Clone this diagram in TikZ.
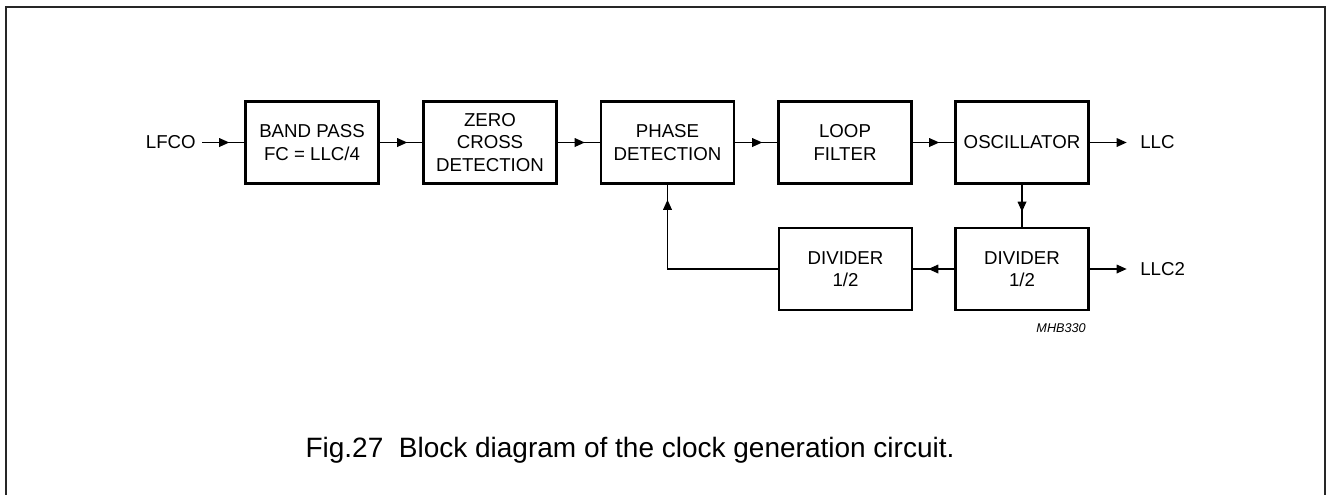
\documentclass[tikz,border=0pt]{standalone}
\usepackage{fontspec}
\setmainfont{Liberation Sans}
\usetikzlibrary{arrows.meta,decorations.markings}
\begin{document}
\begin{tikzpicture}[x=0.75pt,y=-0.75pt,
  blk/.style={draw, line width=1.9pt, minimum width=99.75pt, minimum height=61.5pt,
    align=center, inner sep=0pt, font=\fontsize{14}{17}\selectfont},
  lbl/.style={inner sep=0pt, font=\fontsize{14}{17}\selectfont},
  conn/.style={line width=0.9pt, postaction=decorate,
    decoration={markings, mark=at position -11.25pt with {\arrow{Triangle[length=7.5pt,width=6.5pt]}}}},
  outarrow/.style={line width=0.9pt, -{Triangle[length=7.5pt,width=6.5pt]}, shorten >=10pt},
  frame/.style={draw=black!85, line width=1.6pt}]
\useasboundingbox (0,0) rectangle (1327,494);
\draw[frame] (6,520) -- (6,7) -- (1325,7) -- (1325,520);

\node[blk] (b1) at (312,142.5) {BAND PASS\\FC = LLC/4};
\node[blk] (b2) at (490,142.5) {ZERO\\CROSS\\DETECTION};
\node[blk] (b3) at (667.5,142.5) {PHASE\\DETECTION};
\node[blk] (b4) at (845,142.5) {LOOP\\FILTER};
\node[blk] (b5) at (1022,142.5) {OSCILLATOR};
\node[blk] (d1) at (845.5,269) {DIVIDER\\1/2};
\node[blk] (d2) at (1022,269) {DIVIDER\\1/2};

\node[lbl, anchor=east] (lfco) at (196,142.5) {LFCO};
\node[lbl, anchor=west] (llc) at (1140,142.5) {LLC};
\node[lbl, anchor=west] (llc2) at (1140,269) {LLC2};
\node[inner sep=0pt, anchor=east, font=\fontsize{9.5}{11}\selectfont\itshape] (mhb) at (1086,328) {MHB330};
\node[inner sep=0pt, font=\fontsize{21}{25}\selectfont] (cap) at (630,450) {Fig.27\ \ Block diagram of the clock generation circuit.};

\draw[conn, shorten <=4.5pt] (lfco.east) -- (b1.west);
\draw[conn] (b1.east) -- (b2.west);
\draw[conn] (b2.east) -- (b3.west);
\draw[conn] (b3.east) -- (b4.west);
\draw[conn] (b4.east) -- (b5.west);
\draw[outarrow] (b5.east) -- (llc.west);
\draw[conn] (b5.south) -- (d2.north);
\draw[conn] (d2.west) -- (d1.east);
\draw[outarrow] (d2.east) -- (llc2.west);
\draw[conn] (d1.west) -| (b3.south);
\end{tikzpicture}
\end{document}
